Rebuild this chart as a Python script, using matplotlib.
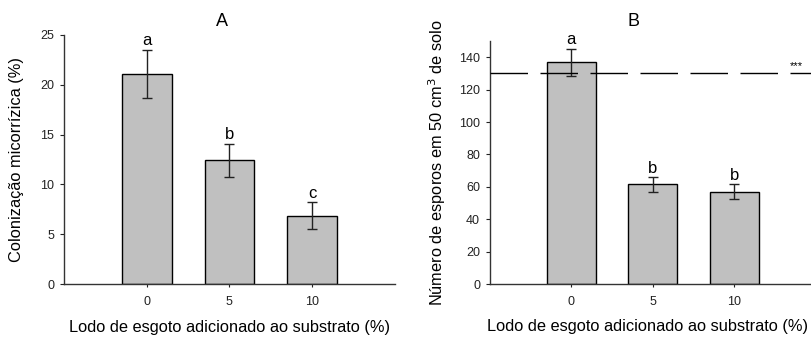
import matplotlib
matplotlib.use("Agg")
import matplotlib.pyplot as plt

plt.rcParams['font.family'] = ['Liberation Sans', 'DejaVu Sans']

# data
doses = ["0", "5", "10"]
colonizacao = [21.1, 12.4, 6.85]
colonizacao_err = [2.4, 1.7, 1.35]
colonizacao_letras = ["a", "b", "c"]
esporos = [137, 61.5, 57]
esporos_err = [8.3, 4.5, 4.5]
esporos_letras = ["a", "b", "b"]
esporos_ref = 130

fig = plt.figure(figsize=(8.11, 3.39), dpi=100)
axA = fig.add_axes([0.0789, 0.162, 0.408, 0.735])
axB = fig.add_axes([0.604, 0.162, 0.402, 0.717])


def painel(ax, vals, errs, letras, ymax, yticks, pad):
    x = list(range(len(vals)))
    ax.bar(x, vals, width=0.6, color="#c0c0c0", edgecolor="black", linewidth=1, zorder=2)
    ax.errorbar(x, vals, yerr=errs, fmt="none", ecolor="#222222", elinewidth=1,
                capsize=3.5, capthick=1, zorder=3)
    for i in x:
        ax.text(i, vals[i] + errs[i] + pad, letras[i], ha="center", va="bottom", fontsize=12)
    ax.set_xlim(-1, 3)
    ax.set_ylim(0, ymax)
    ax.set_yticks(yticks)
    ax.set_xticks(x)
    ax.set_xticklabels(doses)
    ax.spines["top"].set_visible(False)
    ax.spines["right"].set_visible(False)
    for s in ["left", "bottom"]:
        ax.spines[s].set_linewidth(1)
        ax.spines[s].set_color("#333333")
    ax.tick_params(axis="y", direction="out", length=3, labelsize=9, colors="#222222", pad=4)
    ax.tick_params(axis="x", direction="out", length=2.5, labelsize=9, colors="#222222", pad=6)
    ax.set_xlabel("Lodo de esgoto adicionado ao substrato (%)", fontsize=11.8, labelpad=9)


# painel A - colonizacao
painel(axA, colonizacao, colonizacao_err, colonizacao_letras, 25, range(0, 26, 5), 0.15)
axA.set_ylabel("Colonização micorrízica (%)", fontsize=11.8, labelpad=12)
axA.text(0.477, 1.02, "A", transform=axA.transAxes, ha="center", va="bottom", fontsize=13)

# painel B - esporos
painel(axB, esporos, esporos_err, esporos_letras, 150, range(0, 141, 20), 1.0)
axB.set_ylabel("Número de esporos em 50 cm$^3$ de solo", fontsize=11.8, labelpad=8)
axB.xaxis.set_label_coords(0.483, -0.143)
axB.axhline(esporos_ref, color="black", linewidth=1, dashes=(27, 9), zorder=4)
axB.text(2.76, esporos_ref + 1.5, "***", ha="center", va="bottom", fontsize=8)
axB.text(0.442, 1.045, "B", transform=axB.transAxes, ha="center", va="bottom", fontsize=13)

fig.savefig("out.png", dpi=100)
